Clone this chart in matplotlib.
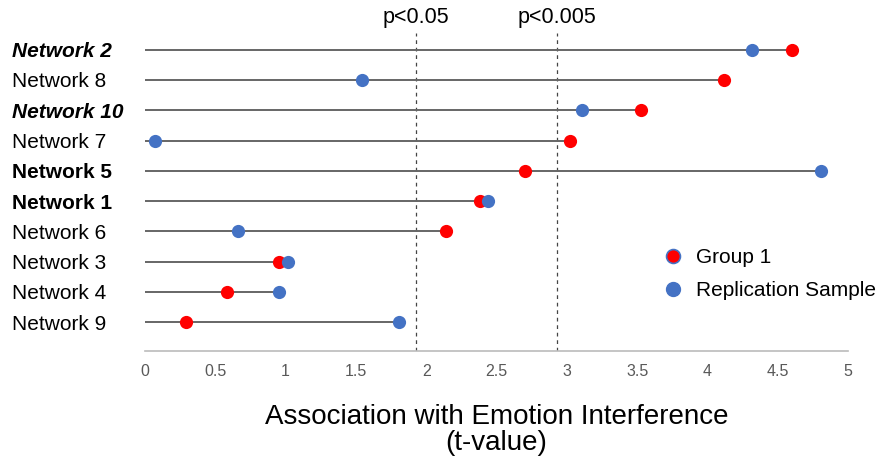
import numpy as np
import matplotlib.pyplot as plt
from matplotlib.lines import Line2D

plt.rcParams['font.family'] = ['Liberation Sans', 'DejaVu Sans']

# data (top to bottom)
networks = ['Network 2', 'Network 8', 'Network 10', 'Network 7', 'Network 5',
            'Network 1', 'Network 6', 'Network 3', 'Network 4', 'Network 9']
group1 = [4.60, 4.12, 3.53, 3.02, 2.70, 2.38, 2.14, 0.95, 0.58, 0.29]
replication = [4.32, 1.54, 3.11, 0.07, 4.81, 2.44, 0.66, 1.02, 0.95, 1.81]
label_styles = {'Network 2': ('bold', 'italic'), 'Network 10': ('bold', 'italic'),
                'Network 5': ('bold', 'normal'), 'Network 1': ('bold', 'normal')}
thresholds = [1.93, 2.93]
threshold_labels = ['p<0.05', 'p<0.005']
xticks = np.arange(0, 5.01, 0.5)

red = '#FF0000'
blue = '#4472C4'

fig = plt.figure(figsize=(8.93, 4.57), dpi=100)
ax = fig.add_axes([0.1624, 0.2319, 0.7872, 0.6958])

y = np.arange(len(networks))
ends = np.maximum(group1, replication)
ax.hlines(y, 0, ends, color='#666666', lw=1.4, zorder=1)

for t, lab in zip(thresholds, threshold_labels):
    ax.axvline(t, color='#444444', lw=0.9, ls=(0, (3, 3)), zorder=0)
    ax.text(t, -0.72, lab, ha='center', va='bottom', fontsize=15.5, color='black')

ax.plot(group1, y, 'o', color=red, markersize=9.5, markeredgewidth=0, zorder=3)
ax.plot(replication, y, 'o', color=blue, markersize=9.5, markeredgewidth=0, zorder=4)

handles = [Line2D([], [], marker='o', ls='', markersize=10, markerfacecolor=red,
                  markeredgecolor=blue, markeredgewidth=1.2, label='Group 1'),
           Line2D([], [], marker='o', ls='', markersize=10, markerfacecolor=blue,
                  markeredgecolor=blue, label='Replication Sample')]
ax.legend(handles=handles, loc='upper left', bbox_to_anchor=(0.725, 0.35),
          frameon=False, fontsize=15, handletextpad=0.6, labelspacing=0.68,
          handlelength=1.0, borderaxespad=0)

ax.set_xlim(0, 5)
ax.set_ylim(9.95, -0.55)
ax.set_xticks(xticks)
ax.set_xticklabels([f'{v:g}' for v in xticks], color='#595959', fontsize=11.5)
ax.tick_params(axis='x', length=0, pad=9)

ax.set_yticks(y)
ax.set_yticklabels(networks, fontsize=15)
ax.tick_params(axis='y', length=0, pad=96)
for tl in ax.get_yticklabels():
    tl.set_horizontalalignment('left')
    w, s = label_styles.get(tl.get_text(), ('normal', 'normal'))
    tl.set_fontweight(w)
    tl.set_fontstyle(s)

for side in ['top', 'right', 'left']:
    ax.spines[side].set_visible(False)
ax.spines['bottom'].set_color('#BBBBBB')
ax.spines['bottom'].set_linewidth(1.2)

ax.set_xlabel('Association with Emotion Interference\n(t-value)', fontsize=20,
              labelpad=18, linespacing=1.0)

fig.savefig('out.png', dpi=100)
